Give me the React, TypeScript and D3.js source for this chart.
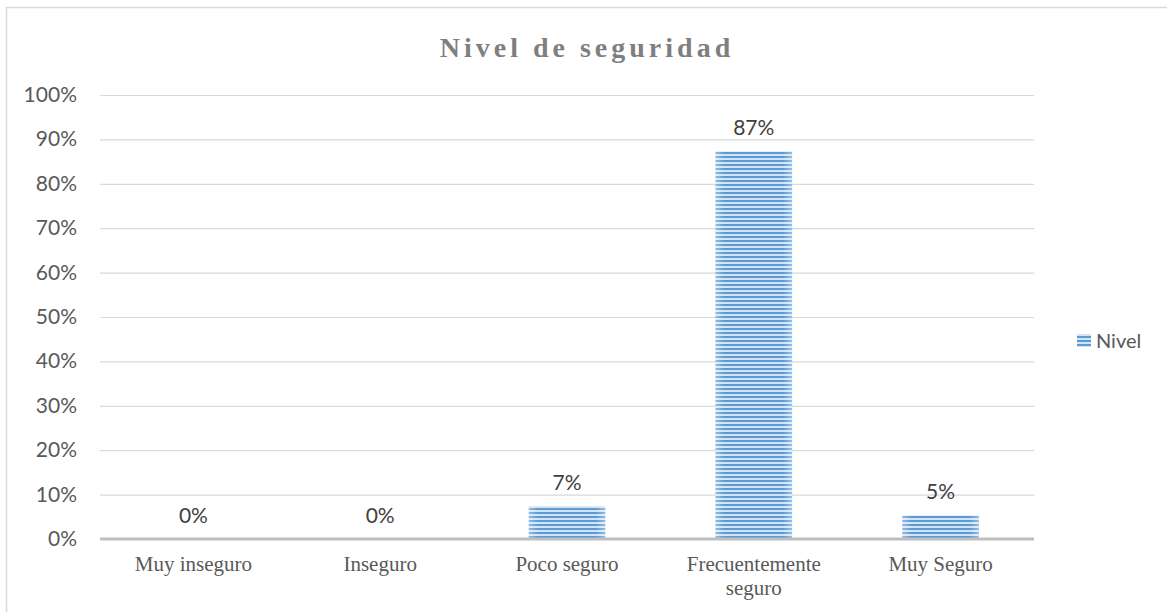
import React from "react";
import * as d3 from "d3";

const categories = ["Muy inseguro", "Inseguro", "Poco seguro", "Frecuentemente seguro", "Muy Seguro"];
const values = [0, 0, 7.4, 87.3, 5.3];
const valueLabels = ["0%", "0%", "7%", "87%", "5%"];
const yTicks = [0, 10, 20, 30, 40, 50, 60, 70, 80, 90, 100];
const seriesName = "Nivel";
const title = "Nivel de seguridad";

const W = 1167;
const H = 612;
const left = 100;
const right = 1034;
const top = 95;
const bottom = 539;

// Word-style wrapped labels
const wrap = (s: string) => (s === "Frecuentemente seguro" ? ["Frecuentemente", "seguro"] : [s]);

export default function App() {
  const x = d3.scaleBand().domain(categories).range([left, right]).paddingInner(0.59).paddingOuter(0.295);
  const y = d3.scaleLinear().domain([0, 100]).range([bottom, top]);

  return (
    <svg width={W} height={H} style={{ position: "absolute", left: 0, top: 0 }}>
      <defs>
        <pattern id="stripes" width="8" height="4" patternUnits="userSpaceOnUse">
          <rect width="8" height="4" fill="#d2e4f5" />
          <rect y="0" width="8" height="2" fill="#5b9bd5" />
        </pattern>
        <linearGradient id="edge" x1="0" x2="1" y1="0" y2="0">
          <stop offset="0" stopColor="#ffffff" stopOpacity="0.35" />
          <stop offset="0.12" stopColor="#ffffff" stopOpacity="0" />
          <stop offset="0.88" stopColor="#ffffff" stopOpacity="0" />
          <stop offset="1" stopColor="#ffffff" stopOpacity="0.35" />
        </linearGradient>
      </defs>
      <rect x={0} y={0} width={W} height={H} fill="#ffffff" />
      <rect x={6.5} y={7.5} width={1170} height={620} fill="none" stroke="#d9d9d9" strokeWidth={1.5} />

      <text
        x={587}
        y={57}
        textAnchor="middle"
        fontFamily="Liberation Serif"
        fontWeight="bold"
        fontSize={28}
        letterSpacing={4}
        fill="#7f7f7f"
      >
        {title}
      </text>

      {yTicks.map((t) => (
        <g key={t}>
          {t > 0 && <line x1={left} x2={right} y1={y(t) + 0.5} y2={y(t) + 0.5} stroke="#d9d9d9" strokeWidth={1.2} />}
          <text x={77} y={y(t) + 7} textAnchor="end" fontFamily="Lato" fontSize={21} fill="#595959">
            {t}%
          </text>
        </g>
      ))}

      {categories.map((c, i) => {
        const bx = x(c)!;
        const by = y(values[i]);
        const h = bottom - by;
        return (
          <g key={c}>
            {h > 0 && (
              <>
                <rect x={bx} y={by} width={x.bandwidth()} height={h} fill="url(#stripes)" />
                <rect x={bx} y={by} width={x.bandwidth()} height={h} fill="url(#edge)" />
              </>
            )}
            <text
              x={bx + x.bandwidth() / 2}
              y={by - 16}
              textAnchor="middle"
              fontFamily="Lato"
              fontSize={21}
              fill="#404040"
            >
              {valueLabels[i]}
            </text>
            {wrap(c).map((ln, j) => (
              <text
                key={j}
                x={bx + x.bandwidth() / 2}
                y={571 + j * 24}
                textAnchor="middle"
                fontFamily="Liberation Serif"
                fontSize={21}
                fill="#595959"
              >
                {ln}
              </text>
            ))}
          </g>
        );
      })}

      <line x1={left} x2={right} y1={bottom} y2={bottom} stroke="#bfbfbf" strokeWidth={3} />

      <rect x={1077} y={334} width={14} height={13} fill="url(#stripes)" />
      <text x={1096} y={348} fontFamily="Lato" fontSize={20} fill="#595959">
        {seriesName}
      </text>
    </svg>
  );
}
